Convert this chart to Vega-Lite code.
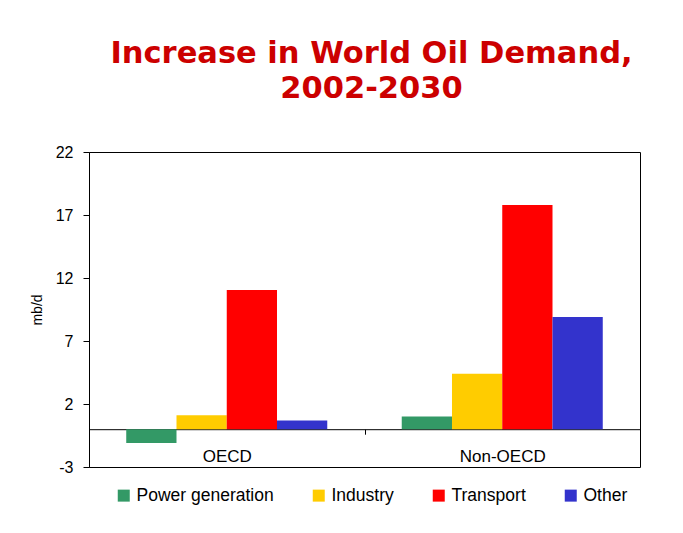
{
  "$schema": "https://vega.github.io/schema/vega-lite/v6.json",
  "width": 551,
  "height": 315,
  "autosize": {"type": "none"},
  "padding": {"left": 89, "top": 152, "right": 43, "bottom": 66},
  "background": "white",
  "title": {
    "text": ["Increase in World Oil Demand,", "2002-2030"],
    "font": "DejaVu Sans",
    "fontWeight": "bold",
    "fontSize": 30.5,
    "lineHeight": 34.5,
    "color": "#CC0000",
    "anchor": "middle",
    "dx": 7,
    "offset": 40
  },
  "data": {
    "values": [
      {"region": "OECD", "sector": "Power generation", "value": -1.1},
      {"region": "OECD", "sector": "Industry", "value": 1.1},
      {"region": "OECD", "sector": "Transport", "value": 11.05},
      {"region": "OECD", "sector": "Other", "value": 0.7},
      {"region": "Non-OECD", "sector": "Power generation", "value": 1.0},
      {"region": "Non-OECD", "sector": "Industry", "value": 4.4},
      {"region": "Non-OECD", "sector": "Transport", "value": 17.8},
      {"region": "Non-OECD", "sector": "Other", "value": 8.9}
    ]
  },
  "mark": {"type": "bar"},
  "encoding": {
    "x": {
      "field": "region",
      "type": "nominal",
      "sort": ["OECD", "Non-OECD"],
      "scale": {"paddingInner": 0, "paddingOuter": 0},
      "axis": {
        "title": null,
        "offset": -37.8,
        "labelAngle": 0,
        "labelFont": "Liberation Sans",
        "labelFontSize": 17,
        "labelColor": "black",
        "labelPadding": 14,
        "tickBand": "extent",
        "tickSize": 5,
        "tickColor": "black",
        "domainColor": "black",
        "grid": false
      }
    },
    "xOffset": {
      "field": "sector",
      "type": "nominal",
      "sort": ["Power generation", "Industry", "Transport", "Other"],
      "scale": {"paddingInner": 0, "paddingOuter": 0.741}
    },
    "y": {
      "field": "value",
      "type": "quantitative",
      "scale": {"domain": [-3, 22], "nice": false, "zero": false},
      "axis": {
        "title": "mb/d",
        "titleFont": "Liberation Sans",
        "titleFontSize": 14,
        "titleFontWeight": "normal",
        "titleColor": "black",
        "titlePadding": 11,
        "values": [-3, 2, 7, 12, 17, 22],
        "labelExpr": "toString(datum.value)",
        "labelFont": "Liberation Sans",
        "labelFontSize": 16,
        "labelColor": "black",
        "labelPadding": 10,
        "tickSize": 6,
        "tickColor": "black",
        "domainColor": "black",
        "grid": false
      }
    },
    "color": {
      "field": "sector",
      "type": "nominal",
      "scale": {
        "domain": ["Power generation", "Industry", "Transport", "Other"],
        "range": ["#339966", "#FFCC00", "#FF0000", "#3333CC"]
      },
      "legend": {
        "title": null,
        "orient": "none",
        "direction": "horizontal",
        "legendX": 26,
        "legendY": 334.5,
        "padding": 0,
        "symbolType": "square",
        "symbolSize": 144,
        "symbolStrokeWidth": 0,
        "labelFont": "Liberation Sans",
        "labelFontSize": 17.5,
        "labelColor": "black",
        "labelOffset": 4,
        "columnPadding": 36
      }
    }
  },
  "config": {
    "view": {"stroke": "black", "strokeWidth": 1}
  }
}
